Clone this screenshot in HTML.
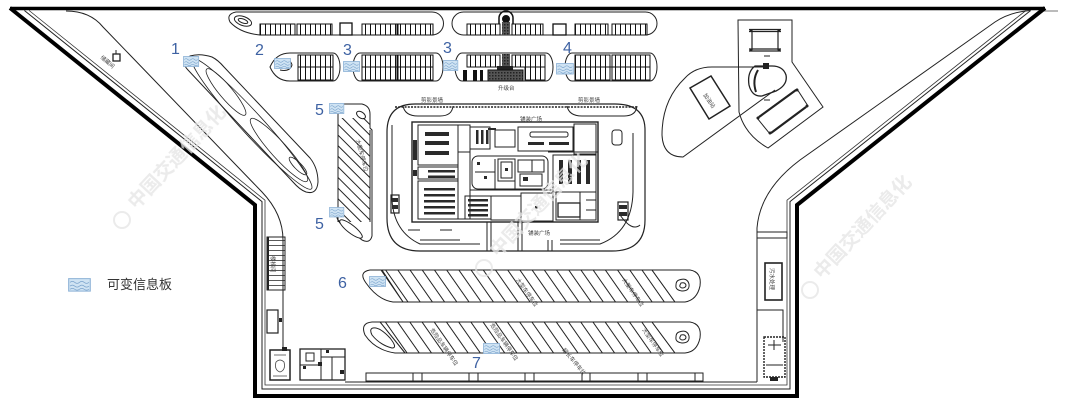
<!DOCTYPE html>
<html><head><meta charset="utf-8"><style>
html,body{margin:0;padding:0;background:#fff;}
svg{display:block;}
</style></head><body>
<svg width="1080" height="414" viewBox="0 0 1080 414" xmlns="http://www.w3.org/2000/svg">
<defs>
<pattern id="stall" width="5" height="40" patternUnits="userSpaceOnUse"><line x1="0.5" y1="0" x2="0.5" y2="40" stroke="#111" stroke-width="1"/></pattern>
<pattern id="hatchA" width="10" height="10" patternUnits="userSpaceOnUse" patternTransform="rotate(-35)"><line x1="1" y1="-1" x2="1" y2="11" stroke="#222" stroke-width="1"/></pattern>
<pattern id="hatchB" width="7.5" height="7.5" patternUnits="userSpaceOnUse" patternTransform="rotate(-45)"><line x1="1" y1="-1" x2="1" y2="9" stroke="#222" stroke-width="1"/></pattern>
<pattern id="hstair" width="20" height="5" patternUnits="userSpaceOnUse"><line x1="0" y1="0.5" x2="20" y2="0.5" stroke="#222" stroke-width="0.8"/></pattern>
<pattern id="dk" width="3" height="3" patternUnits="userSpaceOnUse"><rect width="3" height="3" fill="#555"/><rect width="1.5" height="1.5" fill="#222"/></pattern>
<g id="vms">
 <rect x="0.5" y="0.5" width="16" height="10" fill="#cfe3f3" stroke="#8db2d6" stroke-width="0.8"/>
 <path d="M1.5,3.5 q1.75,-1.6 3.5,0 t3.5,0 t3.5,0 t3.5,0 M1.5,6.5 q1.75,-1.6 3.5,0 t3.5,0 t3.5,0 t3.5,0 M1.5,9 q1.75,-1.4 3.5,0 t3.5,0 t3.5,0 t3.5,0" fill="none" stroke="#7aa3cc" stroke-width="0.6"/>
</g>
</defs>

<!-- outer walls -->
<path d="M10,8.5 L1045,8.5" stroke="#000" stroke-width="3.5"/>
<path d="M1040,11 L1058,11" stroke="#777" stroke-width="1"/>
<path d="M10,8 L255,205 L255,396 L797,396 L797,205 L1045,8" fill="none" stroke="#000" stroke-width="4" stroke-linejoin="miter"/>
<path d="M24.4,10.5 L262,201.6 L262,389 L790,389 L790,201.6 L1030.7,10.5" fill="none" stroke="#222" stroke-width="1"/>
<path d="M29.1,10.5 L265,200.2 L265,385 L787,385 L787,200.2 L1025.9,10.5" fill="none" stroke="#333" stroke-width="0.8"/>

<g fill="none" stroke="#222" stroke-width="1">
<!-- inner road edges -->
<path d="M66,11 Q90,11 103,27 L262,192 Q283,214 283,240 L283,350"/>
<path d="M1030,10.5 Q1010,12 995,22 L800,160 Q760,190 757,228 L757,382"/>
<path d="M345,382 L757,382"/>
<path d="M757,310 L783,310 L783,342"/>

<!-- top-left icon -->
<rect x="113" y="54" width="7" height="7" stroke-width="1.3"/>
<path d="M116,50 L116,54"/>

<!-- left diagonal island -->
<path d="M190,56 Q200,53 212,57 Q218,60 224,67 L310,158 Q318,168 318,182 Q317,195 306,192 Q300,190 293,182 L188,70 Q180,62 190,56 Z"/>
<ellipse cx="252" cy="124" rx="88" ry="11" transform="rotate(47.5 252 124)" stroke-width="0.8"/>
<ellipse cx="226" cy="92" rx="30" ry="6.5" transform="rotate(50 226 92)" stroke-width="0.8"/>
<ellipse cx="279" cy="150" rx="42" ry="8" transform="rotate(48 279 150)" stroke-width="0.8"/>
<ellipse cx="298" cy="166" rx="12" ry="3.5" transform="rotate(45 298 166)" stroke-width="0.8"/>

<!-- Row A left -->
<path d="M236,12 L432,12 A11.5,11.5 0 0 1 432,35 L260,35 Q240,33 230,22 Q226,14 236,12 Z"/>
<ellipse cx="243" cy="21" rx="9" ry="4.5" transform="rotate(20 243 21)"/>
<ellipse cx="243" cy="21" rx="5" ry="2" transform="rotate(20 243 21)"/>
<!-- Row A right -->
<path d="M463.5,12 L645.5,12 A11.5,11.5 0 0 1 645.5,35 L463.5,35 A11.5,11.5 0 0 1 463.5,12 Z"/>

<!-- Row B -->
<path d="M290,53 L333,53 A7,14 0 0 1 333,81 L290,81 Q276,81 270,67 Q276,53 290,53 Z"/>
<path d="M360,53 L436,53 A7,14 0 0 1 436,81 L360,81 A7,14 0 0 1 360,53 Z"/>
<path d="M462,53 L546,53 A7,14 0 0 1 546,81 L462,81 A7,14 0 0 1 462,53 Z"/>
<path d="M572,53 L650,53 A7,14 0 0 1 650,81 L572,81 A7,14 0 0 1 572,53 Z"/>
<path d="M298,67 L333,67 M362,67 L433,67 M467,67 L545,67 M575,67 L650,67"/>
<path d="M277,60 Q290,57 292,65 Q290,72 280,70"/>
</g>

<!-- stalls -->
<g fill="url(#stall)" stroke="#111" stroke-width="1">
<rect x="260" y="24" width="35" height="11"/><rect x="297" y="24" width="35" height="11"/>
<rect x="362" y="24" width="35" height="11"/><rect x="398" y="24" width="35" height="11"/>
<rect x="467" y="24" width="33" height="11"/><rect x="512" y="24" width="31" height="11"/>
<rect x="575" y="24" width="33" height="11"/><rect x="612" y="24" width="35" height="11"/>
<rect x="298" y="55" width="35" height="12"/><rect x="298" y="67" width="35" height="13"/>
<rect x="362" y="55" width="35" height="12"/><rect x="398" y="55" width="35" height="12"/>
<rect x="362" y="67" width="35" height="13"/><rect x="398" y="67" width="35" height="13"/>
<rect x="467" y="55" width="33" height="12"/><rect x="512" y="55" width="33" height="12"/>
<rect x="525" y="67" width="20" height="13"/>
<rect x="575" y="55" width="35" height="12"/><rect x="612" y="55" width="38" height="12"/>
<rect x="575" y="67" width="35" height="13"/><rect x="612" y="67" width="38" height="13"/>
</g>
<g fill="none" stroke="#111" stroke-width="1.3">
<rect x="340" y="23" width="12" height="12"/><rect x="553" y="24" width="13" height="11"/>
</g>
<!-- dark elements top middle -->
<path d="M499,24 L499,18 A7,7 0 0 1 513,18 L513,24" fill="none" stroke="#111" stroke-width="1.5"/>
<circle cx="506" cy="19" r="4" fill="#111"/>
<rect x="502" y="22" width="8" height="13" fill="url(#dk)"/>
<rect x="502" y="54" width="8" height="13" fill="url(#dk)"/>
<rect x="497" y="66" width="16" height="4" fill="#222"/>
<rect x="488" y="70" width="35" height="11" fill="url(#dk)" stroke="#111"/>
<rect x="463" y="70" width="4" height="11" fill="#111"/>
<rect x="473" y="70" width="4" height="11" fill="#111"/>
<rect x="480" y="70" width="3" height="11" fill="#111"/>

<!-- hatched island (5) -->
<path d="M343,104 L362,104 Q370,106 370,114 L370,128 L372,130 L372,236 Q370,244 362,240 L342,225 Q334,218 338,210 L338,112 Q338,104 343,104 Z" fill="none" stroke="#222" stroke-width="1"/>
<polygon points="338,118 370,118 370,222 338,222" fill="url(#hatchB)"/>
<path d="M338,118 L338,222 M370,130 L370,222" stroke="#222" fill="none"/>
<ellipse cx="361" cy="115" rx="5" ry="3" transform="rotate(35 361 115)" fill="none" stroke="#222"/>
<ellipse cx="351" cy="229" rx="14" ry="4" transform="rotate(38 351 229)" fill="#fff" stroke="#222"/>

<!-- service complex -->
<g fill="none" stroke="#222" stroke-width="1">
<path d="M415,104 L615,104 Q645,104 645,130 L645,220 Q645,251 612,251 L420,251 Q387,251 387,218 L387,132 Q387,104 415,104 Z" stroke-width="1.2"/>
<path d="M395,107 L637,107" stroke-dasharray="2 1.2" stroke-width="1.5"/>
<path d="M403,106 Q405,116 418,116 L440,116 Q452,116 453,106"/>
<path d="M567,106 Q569,116 582,116 L624,116 Q636,116 637,106"/>
<path d="M392,125 L392,200 Q394,232 420,244 L480,244"/>
<path d="M633,133 L633,192 Q632,232 600,244 L560,244"/>
<path d="M620,215 Q632,232 640,225"/>
<path d="M420,240 L460,240 M440,230 L452,230 M408,230 L420,230 M560,240 L600,240"/>
<path d="M487,222 L487,251 M491,222 L491,251 M518,222 L518,251 M522,222 L522,251 M548,240 L548,251 M552,240 L552,251"/>
<rect x="391" y="195" width="8" height="18" stroke-width="1.2"/>
<rect x="618" y="202" width="10" height="18" stroke-width="1.2"/>
<rect x="612" y="130" width="10" height="15" rx="3"/>
<!-- building -->
<rect x="412" y="122" width="186" height="100" stroke-width="1.4"/>
<rect x="418" y="125" width="40" height="40"/>
<rect x="418" y="167" width="40" height="12"/>
<rect x="418" y="181" width="40" height="38"/>
<rect x="458" y="125" width="12" height="94"/>
<rect x="470" y="127" width="20" height="22"/>
<rect x="495" y="130" width="20" height="17"/>
<rect x="518" y="127" width="55" height="24"/>
<rect x="530" y="132" width="38" height="5" rx="2"/>
<rect x="574" y="124" width="22" height="30"/>
<rect x="472" y="156" width="76" height="33" rx="6"/>
<rect x="498" y="159" width="17" height="22"/>
<rect x="501" y="162" width="11" height="16"/>
<path d="M515,159 L515,189 M495,159 L495,189 M475,172 L495,172"/>
<rect x="518" y="160" width="14" height="12"/>
<rect x="532" y="160" width="12" height="12"/>
<rect x="520" y="174" width="22" height="12"/>
<rect x="553" y="155" width="43" height="37"/>
<rect x="556" y="192" width="40" height="28"/>
<rect x="558" y="203" width="22" height="14" stroke-width="1.3"/>
<rect x="465" y="196" width="26" height="23"/>
<rect x="491" y="196" width="30" height="24"/>
<rect x="521" y="193" width="32" height="28"/>
<path d="M458,152 L470,152 M548,152 L598,152 M470,190 L553,190 M580,192 L580,220 M586,200 L596,200 M586,210 L596,210"/>
</g>
<g fill="#2a2a2a">
<rect x="425" y="132" width="24" height="4"/><rect x="425" y="141" width="24" height="4"/><rect x="425" y="151" width="24" height="4"/>
<rect x="428" y="170" width="27" height="2.5"/><rect x="428" y="175.5" width="27" height="2.5"/>
<rect x="424" y="188" width="31" height="2.5"/><rect x="424" y="194" width="31" height="2.5"/><rect x="424" y="200" width="31" height="2.5"/><rect x="424" y="206" width="31" height="2.5"/><rect x="424" y="212" width="31" height="2.5"/>
<rect x="476" y="130" width="2.5" height="14"/><rect x="481" y="130" width="2.5" height="14"/><rect x="486" y="130" width="2.5" height="14"/>
<rect x="528" y="142" width="16" height="3"/><rect x="549" y="142" width="20" height="3"/>
<rect x="559" y="160" width="4" height="24"/><rect x="568" y="160" width="4" height="24"/><rect x="577" y="160" width="4" height="24"/><rect x="586" y="160" width="4" height="24"/>
<rect x="468" y="199" width="20" height="2.5"/><rect x="468" y="204" width="20" height="2.5"/><rect x="468" y="209" width="20" height="2.5"/><rect x="468" y="214" width="20" height="2.5"/>
<rect x="477" y="162" width="3" height="3"/><rect x="484" y="176" width="3" height="3"/><rect x="505" y="168" width="3" height="3"/><rect x="523" y="177" width="5" height="4"/><rect x="535" y="206" width="2.5" height="2.5"/>
<rect x="392" y="198" width="6" height="4"/><rect x="392" y="205" width="6" height="4"/><rect x="619" y="205" width="8" height="4"/><rect x="619" y="212" width="8" height="4"/>
<rect x="488" y="128" width="8" height="2"/><rect x="413" y="140" width="4" height="20"/><rect x="413" y="170" width="4" height="6"/>
</g>

<!-- row 6 -->
<g stroke="#222" stroke-width="1">
<polygon points="382,270 652,270 675,302 403,302" fill="url(#hatchA)"/>
<path d="M370,270 L381,270 L403,302 L393,302 Q378,300 366,283 Q358,272 370,270 Z" fill="#fff"/>
<path d="M652,270 L690,270 Q702,272 700,286 Q697,300 685,302 L675,302 Z" fill="#fff"/>
<path d="M679,280 Q687,277 689,284 Q690,291 682,291 Q675,290 676,285 Q676,281 679,280 Z" fill="none"/>
<path d="M681,283 Q685,282 686,285 Q686,288 682,288 Q679,287 680,285 Z" fill="none"/>
<!-- row 7 -->
<polygon points="380,322 652,322 675,353 405,353" fill="url(#hatchA)"/>
<path d="M372,322 L380,322 L405,353 L395,353 Q375,350 365,335 Q360,323 372,322 Z" fill="#fff"/>
<path d="M373,328 Q380,327 390,338 Q398,348 392,348 Q380,345 372,335 Q369,329 373,328 Z" fill="none"/>
<path d="M652,322 L690,322 Q702,324 700,338 Q697,352 685,353 L675,353 Z" fill="#fff"/>
<path d="M679,332 Q687,329 689,336 Q690,343 682,343 Q675,342 676,337 Q676,333 679,332 Z" fill="none"/>
<path d="M681,335 Q685,334 686,337 Q686,340 682,340 Q679,339 680,337 Z" fill="none"/>
</g>

<!-- bottom stalls row -->
<g fill="none" stroke="#222" stroke-width="1">
<rect x="366" y="373" width="337" height="8"/>
<path d="M413,373 V381 M422,373 V381 M469,373 V381 M478,373 V381 M525,373 V381 M534,373 V381 M582,373 V381 M590,373 V381 M638,373 V381 M647,373 V381 M695,373 V381"/>
</g>

<!-- left side buildings -->
<rect x="267" y="237" width="18" height="53" fill="url(#hstair)" stroke="#222" stroke-width="1"/>
<path d="M268,237 L268,290" stroke="#222" stroke-width="2"/>
<rect x="267" y="310" width="11" height="23" fill="#fff" stroke="#222" stroke-width="1.2"/>
<rect x="279" y="318" width="3" height="4" fill="#222"/>
<rect x="270" y="350" width="20" height="30" fill="none" stroke="#222" stroke-width="1.5"/>
<path d="M274,355 L286,355 M276,362 Q280,358 284,362 Q286,370 280,372 Q274,370 276,362 M273,376 L287,376" fill="none" stroke="#444" stroke-width="0.8"/>
<rect x="282" y="347" width="5" height="4" fill="#222"/>
<g fill="none" stroke="#222" stroke-width="1">
<rect x="300" y="349" width="45" height="31" stroke-width="1.3"/>
<path d="M321,349 L321,380 M300,365 L321,365 M321,357 L345,357 M332,357 L332,380"/>
<rect x="306" y="353" width="8" height="8"/>
</g>
<g fill="#222"><rect x="303" y="366" width="3" height="3"/><rect x="340" y="370" width="4" height="4"/><rect x="318" y="362" width="4" height="4"/><rect x="326" y="350" width="3" height="3"/></g>

<!-- right side buildings -->
<g fill="none" stroke="#222">
<rect x="757" y="232" width="30" height="6" stroke-width="1"/>
<rect x="765" y="263" width="17" height="37" stroke-width="1.6"/>
<rect x="764" y="337" width="21" height="40" stroke-width="1.4" stroke-dasharray="2 1"/>
<path d="M768,345 L781,345 M774,340 L774,350 M766,365 L783,365"/>
</g>
<rect x="770" y="377" width="8" height="4" fill="#222"/>

<!-- gas station area -->
<g fill="none" stroke="#222" stroke-width="1">
<path d="M738,20 L792,20 L792,62 L823,107 L768,148 Q745,135 739,112 Z"/>
<path d="M767,67 L712,67 Q695,67 685,78 Q662,100 662,135 Q663,157 683,157 L775,90"/>
<polygon points="690,88 711,76 730,106 709,119" stroke-width="1.5"/>
<path d="M749,29.5 L781,29.5 M749,31.5 L781,31.5 M749,49 L781,49 M749,51 L781,51 M752,30 L752,50 M778,30 L778,50" stroke-width="1.2"/>
<path d="M755,66 Q747,72 749,85 Q752,97 762,96 L776,91 Q788,85 786,75 Q783,66 772,66 Z" stroke-width="1.3"/>
<path d="M758,70 Q752,80 756,92" stroke-width="2"/>
<polygon points="757,118 797,89 808,106 770,134"/>
<path d="M759,117 L796,90 M771,133 L806,107" stroke-width="2.2"/>
<path d="M764,56 L770,56 M764,100 L770,100"/>
</g>
<rect x="763" y="63" width="6" height="6" fill="#222"/>
<g fill="#222"><circle cx="751" cy="30.5" r="1.4"/><circle cx="779" cy="30.5" r="1.4"/><circle cx="751" cy="50" r="1.4"/><circle cx="779" cy="50" r="1.4"/><circle cx="758" cy="118" r="1.5"/><circle cx="797" cy="90" r="1.5"/><circle cx="770" cy="133" r="1.5"/><circle cx="807" cy="106" r="1.5"/></g>

<!-- tiny labels -->
<g font-family="'Liberation Sans','Noto Sans CJK SC',sans-serif" font-size="5.5" fill="#444">
<text x="421" y="102">剪影景墙</text>
<text x="578" y="102">剪影景墙</text>
<text x="520" y="121">铺装广场</text>
<text x="528" y="235">铺装广场</text>
<text x="498" y="90">升级台</text>
<text transform="translate(770,268) rotate(90)">污水处理</text>
<text transform="translate(703,95) rotate(55)">加油站</text>
<text transform="translate(100,58) rotate(40)">储藏间</text>
<text transform="translate(356,140) rotate(75)">大型车停车位</text>
<text transform="translate(516,280) rotate(55)">大型车停车位</text>
<text transform="translate(622,280) rotate(55)">大型车停车位</text>
<text transform="translate(430,330) rotate(55)">危险品车辆停车位</text>
<text transform="translate(490,325) rotate(55)">危险品车辆停车位</text>
<text transform="translate(642,330) rotate(55)">大型车停车位</text>
<text transform="translate(562,350) rotate(50)">超长车停车位</text>
<text transform="translate(271,256) rotate(90)">楼梯间</text>
</g>

<!-- VMS signs -->
<use href="#vms" transform="translate(183,56) scale(0.95,1)"/>
<use href="#vms" transform="translate(274,58)"/>
<use href="#vms" transform="translate(343,61)"/>
<use href="#vms" transform="translate(443,60) scale(0.9,1)"/>
<use href="#vms" transform="translate(556,63) scale(1.05,1.05)"/>
<use href="#vms" transform="translate(329,103) scale(0.9,1)"/>
<use href="#vms" transform="translate(329,207) scale(0.9,0.95)"/>
<use href="#vms" transform="translate(369,276)"/>
<use href="#vms" transform="translate(483,343)"/>
<use href="#vms" transform="translate(68,278) scale(1.35,1.25)"/>

<!-- sign labels -->
<g font-family="'Liberation Sans',sans-serif" font-size="16" fill="#3e62a3">
<text x="171" y="54">1</text>
<text x="255" y="55">2</text>
<text x="343" y="55">3</text>
<text x="443" y="53">3</text>
<text x="563" y="53">4</text>
<text x="315" y="115">5</text>
<text x="315" y="229">5</text>
<text x="338" y="288">6</text>
<text x="472" y="368">7</text>
</g>

<text x="107" y="289" font-family="'Liberation Sans','Noto Sans CJK SC',sans-serif" font-size="13" fill="#333">可变信息板</text>

<!-- watermarks -->
<g font-family="'Liberation Sans','Noto Sans CJK SC',sans-serif" font-size="19" font-weight="bold" fill="#e4e4e4" opacity="0.75">
<text transform="translate(136,210) rotate(-47)">中国交通信息化</text>
<text transform="translate(498,258) rotate(-47)">中国交通信息化</text>
<text transform="translate(822,280) rotate(-47)">中国交通信息化</text>
</g>
<g fill="none" stroke="#e4e4e4" stroke-width="2" opacity="0.75">
<circle cx="122" cy="220" r="8"/><circle cx="484" cy="268" r="8"/><circle cx="810" cy="290" r="8"/>
</g>
</svg>
</body></html>
